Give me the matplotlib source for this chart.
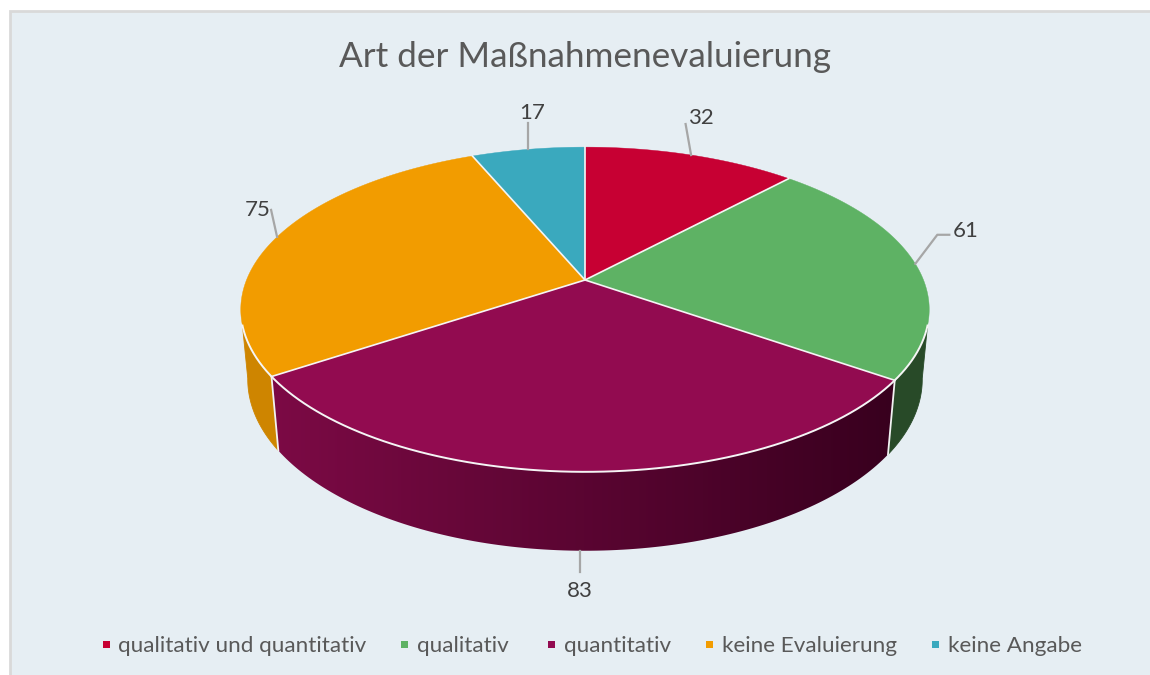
import matplotlib
matplotlib.use('Agg')
import matplotlib.pyplot as plt
import numpy as np
from matplotlib.patches import Polygon, Rectangle
from matplotlib.colors import LinearSegmentedColormap

plt.rcParams['font.family'] = ['Lato', 'DejaVu Sans']

title = 'Art der Maßnahmenevaluierung'
categories = ['qualitativ und quantitativ', 'qualitativ', 'quantitativ', 'keine Evaluierung', 'keine Angabe']
values = [32, 61, 83, 75, 17]
colors = ['#C70033', '#5EB264', '#920B50', '#F29C00', '#3AA9BE']

# perspective of the disc, in pixels
cx, cy = 585, 280
X, Y, p = 338.5, 157, 0.1816
sink, drop = 0.02, 70


def rim(theta, lower=False):
    # theta in degrees, clockwise from 12 o'clock
    t = np.radians(theta)
    u, v = np.sin(t), np.cos(t)
    if lower:
        d = 1 + sink + p * v
        return cx + X * u / d, cy - (Y * v - drop) / d
    d = 1 + p * v
    return cx + X * u / d, cy - Y * v / d


def ring(a, b, lower=False, n=120):
    xs, ys = rim(np.linspace(a, b, n), lower)
    return np.column_stack([xs, ys])


fig = plt.figure(figsize=(11.5, 6.75), dpi=100)
ax = fig.add_axes([0, 0, 1, 1])

# chart area
ax.add_patch(Rectangle((10, 11), 1150, 680, fc='#E6EEF3', ec='#D9D9D9', lw=2, zorder=0))

ax.text(585, 57, title, fontsize=25.3, color='#595959', ha='center', va='center')

bounds = np.cumsum([0] + values) / sum(values) * 360

# side walls, only those facing the viewer
green_end, maroon_end = bounds[2], bounds[3]
ax.add_patch(Polygon(np.vstack([ring(106, green_end), ring(green_end, 100, True)]), closed=True,
                     fc='#284A28', ec='#284A28', lw=0.6, zorder=2))
ax.add_patch(Polygon(np.vstack([ring(maroon_end, 254), ring(260, maroon_end, True)]), closed=True,
                     fc='#CE8500', ec='#CE8500', lw=0.6, zorder=2))

# maroon wall has a gradient from left to right
wall = Polygon(np.vstack([ring(green_end, maroon_end), ring(maroon_end, green_end, True)]), closed=True,
               transform=ax.transData, fc='none', ec='none')
ax.add_patch(wall)
wall_x0, wall_x1 = rim(maroon_end)[0], rim(green_end)[0]
wall_cmap = LinearSegmentedColormap.from_list('wall', ['#7C0A45', '#38001E'])
im = ax.imshow(np.linspace(0, 1, 256)[None, :], cmap=wall_cmap, aspect='auto', zorder=2,
               extent=[wall_x0, wall_x1, 560, 370])
im.set_clip_path(wall)

ax.set_xlim(0, 1150)
ax.set_ylim(675, 0)
ax.axis('off')

# white lines at the wall joints
for b in [green_end, maroon_end]:
    x0, y0 = rim(b)
    x1, y1 = rim(b, True)
    ax.plot([x0, x1], [y0, y1], color='#F2F2F2', lw=1.3, zorder=3)

# top face
for i in range(len(values)):
    pts = np.vstack([[cx, cy], ring(bounds[i], bounds[i + 1], n=200)])
    ax.add_patch(Polygon(pts, closed=True, fc=colors[i], ec=colors[i], lw=0.3, zorder=4))
for b in bounds[:-1]:
    x0, y0 = rim(b)
    ax.plot([cx, x0], [cy, y0], color='#F5F5F5', lw=1.2, zorder=5)
front = ring(106, 254, n=200)
ax.plot(front[:, 0], front[:, 1], color='#F5F5F5', lw=1.4, zorder=5)

# data labels with leader lines
mids = (bounds[:-1] + bounds[1:]) / 2
leader_dx = [-5.5, 22, 0, -6, 0]
leader_dy = [-31, -29, 21, -27, -26]
text_dx = [15, 28, 0, -13, 4]
text_dy = [-6, -4, 19, 0, -10]
for i in range(len(values)):
    x0, y0 = rim(mids[i], i == 2)
    xs = [x0, x0 + leader_dx[i]]
    ys = [y0, y0 + leader_dy[i]]
    if i == 1:
        xs.append(xs[-1] + 12)
        ys.append(ys[-1])
    ax.plot(xs, ys, color='#A6A6A6', lw=1.6, zorder=6)
    ax.text(xs[1] + text_dx[i], ys[1] + text_dy[i], str(values[i]),
            fontsize=16, color='#404040', ha='center', va='center', zorder=6)

# legend
marker_x = [102.5, 400.5, 547.5, 705.5, 931.5]
text_x = [118, 417, 564, 722, 948]
for i in range(len(categories)):
    ax.add_patch(Rectangle((marker_x[i], 640.5), 7.5, 7.5, fc=colors[i], ec='none', zorder=6))
    ax.text(text_x[i], 645.5, categories[i], fontsize=16.2, color='#595959', ha='left', va='center', zorder=6)

plt.savefig('out.png', dpi=100)
plt.close('all')
